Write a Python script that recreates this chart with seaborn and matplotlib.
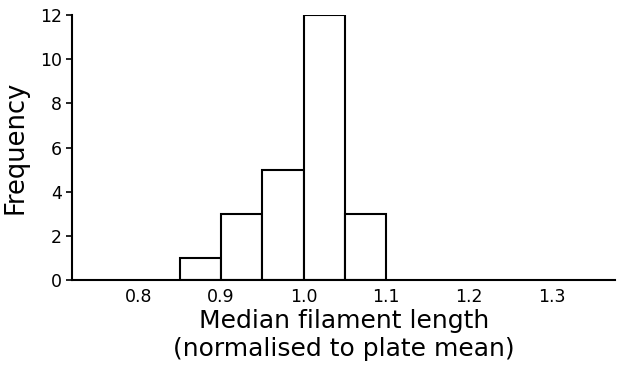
import matplotlib
matplotlib.use("Agg")
import matplotlib.pyplot as plt
import seaborn as sns
import numpy as np

# Data
bin_edges = [0.85, 0.90, 0.95, 1.00, 1.05, 1.10]
bin_centers = [0.875, 0.925, 0.975, 1.025, 1.075]
counts = [1, 3, 5, 12, 3]
x_ticks = [0.8, 0.9, 1.0, 1.1, 1.2, 1.3]
y_ticks = [0, 2, 4, 6, 8, 10, 12]

sns.set_style("white")
plt.rcParams['font.family'] = ['DejaVu Sans']
plt.rcParams['text.color'] = 'black'
plt.rcParams['axes.labelcolor'] = 'black'
plt.rcParams['xtick.color'] = 'black'
plt.rcParams['ytick.color'] = 'black'

fig = plt.figure(figsize=(6.17, 3.69), dpi=100)
ax = fig.add_axes([0.117, 0.241, 0.880, 0.718])

sns.histplot(x=bin_centers, weights=counts, bins=bin_edges, ax=ax,
             color="white", edgecolor="black", linewidth=1.5, alpha=1)

ax.set_xlim(0.72, 1.377)
ax.set_ylim(0, 12)
ax.set_xticks(x_ticks)
ax.set_xticklabels([f"{t:.1f}" for t in x_ticks])
ax.set_yticks(y_ticks)
ax.tick_params(axis='x', length=0, labelsize=12.5, pad=6)
ax.tick_params(axis='y', length=4, width=1.2, labelsize=12.5, left=True)
ax.set_xlabel("Median filament length\n(normalised to plate mean)", fontsize=18, labelpad=2)
ax.set_ylabel("Frequency", fontsize=18.5, labelpad=8)
for s in ['top', 'right']:
    ax.spines[s].set_visible(False)
for s in ['left', 'bottom']:
    ax.spines[s].set_linewidth(1.5)
    ax.spines[s].set_color('black')

fig.savefig("out.png", dpi=100)
